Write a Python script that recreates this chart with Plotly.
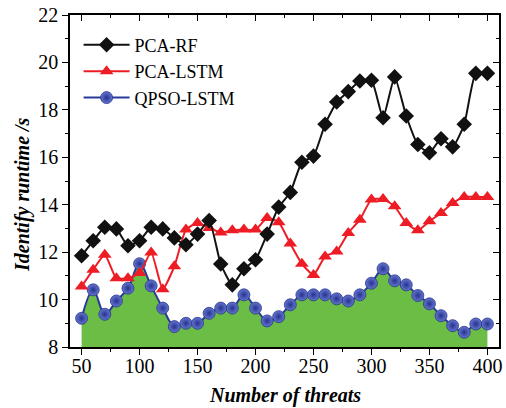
import plotly.graph_objects as go

threats = [50, 60, 70, 80, 90, 100, 110, 120, 130, 140, 150, 160, 170, 180, 190, 200, 210, 220,
           230, 240, 250, 260, 270, 280, 290, 300, 310, 320, 330, 340, 350, 360, 370, 380, 390, 400]

pca_rf = [11.85, 12.48, 13.05, 12.98, 12.27, 12.48, 13.05, 12.98, 12.6, 12.31, 12.76, 13.33,
          11.5, 10.62, 11.3, 11.68, 12.76, 13.9, 14.52, 15.79, 16.05, 17.39, 18.33, 18.77,
          19.22, 19.25, 17.67, 19.39, 17.74, 16.54, 16.19, 16.78, 16.44, 17.39, 19.54, 19.54]

pca_lstm = [10.55, 11.26, 11.89, 10.9, 10.9, 11.12, 11.99, 10.44, 11.4, 12.95, 13.23, 13.02,
            12.83, 12.92, 12.95, 12.95, 13.44, 13.26, 12.36, 11.51, 11.04, 11.82, 12.03, 12.81,
            13.37, 14.22, 14.24, 13.93, 13.23, 12.92, 13.3, 13.65, 14.07, 14.33, 14.33, 14.33]

qpso_lstm = [9.21, 10.41, 9.38, 9.94, 10.48, 11.51, 10.58, 9.64, 8.86, 9.0, 9.0, 9.42,
             9.64, 9.64, 10.2, 9.64, 9.1, 9.28, 9.78, 10.2, 10.2, 10.2, 10.03, 9.94,
             10.2, 10.69, 11.3, 10.79, 10.62, 10.17, 9.82, 9.32, 8.9, 8.62, 8.97, 8.97]

FONT = "Liberation Serif"

fig = go.Figure()

# green area under QPSO-LSTM (no legend entry)
fig.add_trace(go.Scatter(
    x=threats, y=qpso_lstm, mode="lines", showlegend=False, hoverinfo="skip",
    line=dict(width=0, shape="spline", smoothing=1.0),
    fill="tozeroy", fillcolor="#6BBD45",
))
fig.add_trace(go.Scatter(
    x=threats, y=qpso_lstm, name="QPSO-LSTM", mode="lines+markers",
    line=dict(color="#2B3A98", width=2, shape="spline", smoothing=1.0),
    marker=dict(symbol="circle", size=12, color="#6577D0",
                gradient=dict(type="radial", color="#27338E"),
                line=dict(color="#27338E", width=0.8)),
))
fig.add_trace(go.Scatter(
    x=threats, y=pca_lstm, name="PCA-LSTM", mode="lines+markers",
    line=dict(color="#EE1C24", width=2, shape="spline", smoothing=0.5),
    marker=dict(symbol="triangle-up", size=12, color="#EE1C24"),
))
fig.add_trace(go.Scatter(
    x=threats, y=pca_rf, name="PCA-RF", mode="lines+markers",
    line=dict(color="#111111", width=2, shape="spline", smoothing=0.5),
    marker=dict(symbol="diamond", size=12, color="#111111"),
))

# helper for mirrored inward ticks on top/right
fig.add_trace(go.Scatter(x=[50], y=[8], xaxis="x2", yaxis="y2", showlegend=False,
                         mode="markers", marker=dict(opacity=0), hoverinfo="skip"))

line_common = dict(showgrid=False, zeroline=False, showline=True, linecolor="black",
                   linewidth=1.5, tickcolor="black", tickwidth=1.2, automargin=False)
tickfont = dict(family=FONT, size=20, color="black")

fig.update_layout(
    width=506, height=408,
    margin=dict(l=70, r=7, t=15, b=61),
    plot_bgcolor="white", paper_bgcolor="white",
    xaxis=dict(range=[40, 410], tick0=50, dtick=50, ticks="outside", ticklen=6,
               ticklabelstandoff=-6,
               minor=dict(dtick=25, tick0=25, ticks="outside", ticklen=3, tickcolor="black"),
               tickfont=tickfont, **line_common),
    yaxis=dict(range=[8, 22], tick0=8, dtick=2, ticks="outside", ticklen=6,
               minor=dict(dtick=1, ticks="outside", ticklen=3, tickcolor="black"),
               tickfont=tickfont, **line_common),
    xaxis2=dict(range=[40, 410], overlaying="x", side="top", tick0=50, dtick=50,
                ticks="inside", ticklen=6, showticklabels=False,
                minor=dict(dtick=25, tick0=25, ticks="inside", ticklen=3, tickcolor="black"),
                **line_common),
    yaxis2=dict(range=[8, 22], overlaying="y", side="right", tick0=8, dtick=2,
                ticks="inside", ticklen=6, showticklabels=False,
                minor=dict(dtick=1, ticks="inside", ticklen=3, tickcolor="black"),
                **line_common),
    legend=dict(x=0.02, y=0.965, xanchor="left", yanchor="top", traceorder="reversed",
                bgcolor="rgba(0,0,0,0)", font=dict(family=FONT, size=18, color="black"),
                tracegroupgap=0, itemwidth=46),
    showlegend=True,
    annotations=[
        dict(text="<b><i>Number of threats</i></b>", xref="paper", yref="paper",
             x=0.5, y=0, xanchor="center", yanchor="middle", yshift=-48, showarrow=False,
             font=dict(family=FONT, size=20, color="black")),
        dict(text="<b><i>Identify runtime /s</i></b>", xref="paper", yref="paper",
             x=0, y=0.5, xanchor="center", yanchor="middle", xshift=-48, yshift=-14,
             textangle=-90, showarrow=False,
             font=dict(family=FONT, size=20, color="black")),
    ],
)

fig.write_html("out.html", config={"displayModeBar": False},
               post_script="document.body.style.margin='0px';")
